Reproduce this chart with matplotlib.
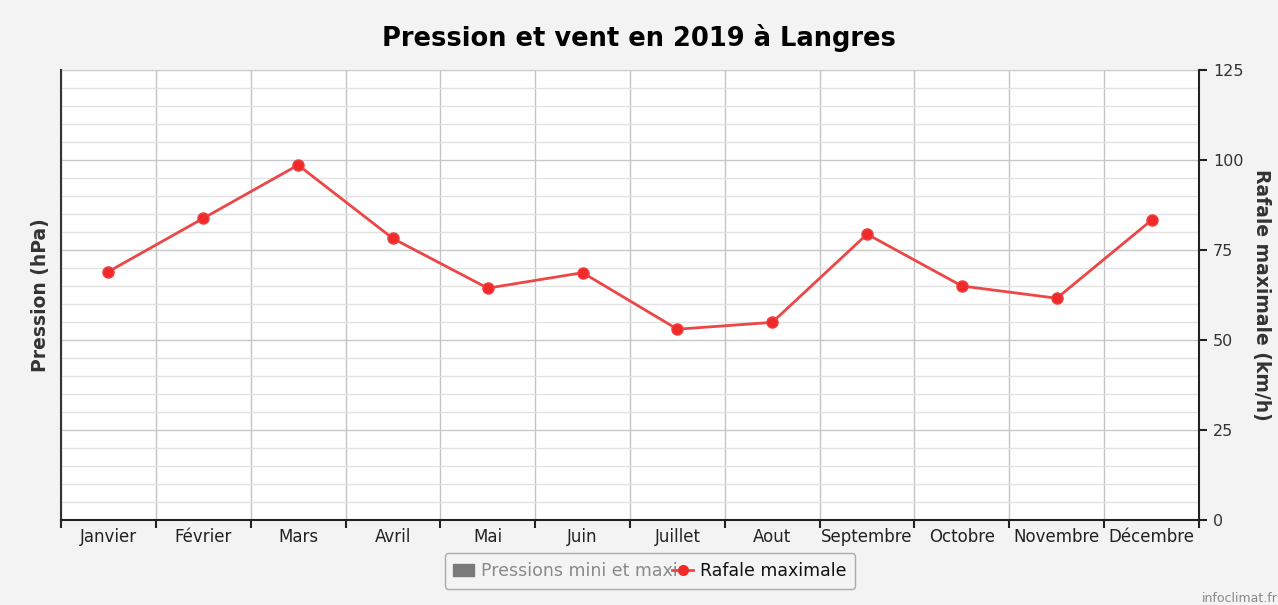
import matplotlib.pyplot as plt
from matplotlib.lines import Line2D
from matplotlib.patches import Patch
import numpy as np

months = ['Janvier', 'Février', 'Mars', 'Avril', 'Mai', 'Juin', 'Juillet',
          'Aout', 'Septembre', 'Octobre', 'Novembre', 'Décembre']
rafale = [69.0, 83.8, 98.6, 78.2, 64.4, 68.7, 53.0, 54.9, 79.4, 65.0, 61.6, 83.3]
right_ticks = [0, 25, 50, 75, 100, 125]

plt.rcParams['font.family'] = ['DejaVu Sans']

fig = plt.figure(figsize=(12.78, 6.05), dpi=100, facecolor='#f3f3f3')
ax = fig.add_axes([61 / 1278, 1 - 520 / 605, (1199 - 61) / 1278, (520 - 70) / 605])
ax.set_facecolor('white')

x = np.arange(len(months))
ax.set_xlim(-0.5, len(months) - 0.5)
ax.set_ylim(0, 125)

ax2 = ax.twinx()
ax2.set_ylim(0, 125)

# grid: minor every 5, major every 25, vertical at category boundaries
ax.set_yticks(right_ticks)
ax.set_yticks(np.arange(0, 126, 5), minor=True)
ax.yaxis.grid(True, which='minor', color='#e2e2e2', lw=1)
ax.yaxis.grid(True, which='major', color='#c8c8c8', lw=1)
ax.set_xticks(x)
ax.set_xticks(np.arange(-0.5, len(months), 1), minor=True)
ax.xaxis.grid(True, which='minor', color='#c4c4c4', lw=1)
ax.set_axisbelow(True)

ax.set_xticklabels(months, fontsize=12, color='#222222')
ax.tick_params(axis='x', which='major', length=0, pad=6)
ax.tick_params(axis='x', which='minor', length=6, width=1.5, color='#222222', direction='out')
ax.tick_params(axis='y', which='both', left=False, right=False,
               labelleft=False, labelright=False)

for side in ['top', 'right']:
    ax.spines[side].set_visible(False)
ax.spines['left'].set_color('#333333')
ax.spines['left'].set_linewidth(1.5)
ax.spines['bottom'].set_color('#222222')
ax.spines['bottom'].set_linewidth(1.5)

ax.set_ylabel('Pression (hPa)', fontsize=13.5, fontweight='bold', color='#333333', labelpad=8)

ax2.set_yticks(right_ticks)
ax2.tick_params(axis='y', length=6, width=1.5, color='#222222', labelsize=11.5,
                labelcolor='#333333', pad=4)
for side in ['top', 'left', 'bottom']:
    ax2.spines[side].set_visible(False)
ax2.spines['right'].set_color('#222222')
ax2.spines['right'].set_linewidth(1.5)
ax2.set_ylabel('Rafale maximale (km/h)', fontsize=13.5, fontweight='bold', color='#333333',
               rotation=270, labelpad=20)

ax2.plot(x, rafale, color='#ec4646', lw=2, marker='o', markersize=8,
         markerfacecolor='#f02a2a', markeredgecolor='#f04040', zorder=5, clip_on=False)

fig.suptitle('Pression et vent en 2019 à Langres', fontsize=18.5, fontweight='bold',
             y=1 - 38 / 605, va='center')

handles = [Patch(facecolor='#7a7a7a', edgecolor='#7a7a7a'),
           Line2D([0], [0], color='#ec4646', lw=2, marker='o', markersize=7,
                  markerfacecolor='#f02a2a', markeredgecolor='#f02a2a')]
leg = fig.legend(handles, ['Pressions mini et maxi', 'Rafale maximale'],
                 loc='center', bbox_to_anchor=(650 / 1278, 1 - 571 / 605), ncol=2,
                 fontsize=12.5, frameon=True, fancybox=True, handlelength=1.2,
                 columnspacing=-0.3, handletextpad=0.4, borderpad=0.5)
leg.get_frame().set_edgecolor('#999999')
leg.get_frame().set_facecolor('#f5f5f5')
leg.get_texts()[0].set_color('#8a8a8a')
leg.get_texts()[1].set_color('#111111')

fig.text(1278 / 1278, 1 - 598 / 605, 'infoclimat.fr', ha='right', va='center',
         fontsize=9, color='#888888')

fig.savefig('out.png', dpi=100, facecolor=fig.get_facecolor())
